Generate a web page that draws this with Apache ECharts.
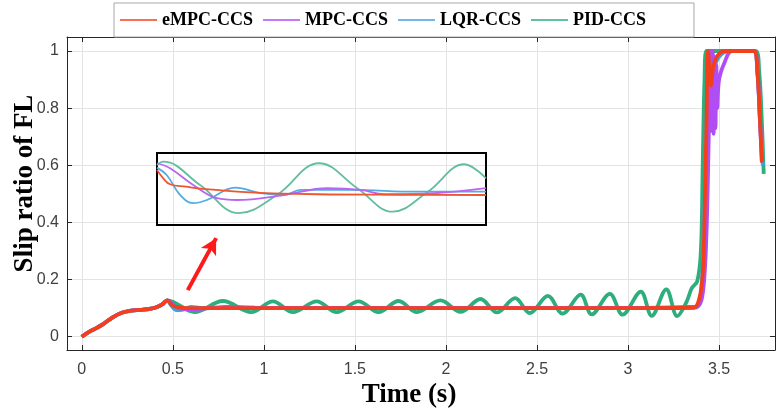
<!DOCTYPE html>
<html>
<head>
<meta charset="utf-8">
<script src="https://cdn.jsdelivr.net/npm/echarts@6/dist/echarts.min.js"></script>
<style>
html,body{margin:0;padding:0;background:#fff;}
#chart{width:783px;height:411px;}
</style>
</head>
<body>
<div id="chart"></div>
<script>
// ---- tick labels ----
const xTicks = [0, 0.5, 1, 1.5, 2, 2.5, 3, 3.5];
const yTicks = [0, 0.2, 0.4, 0.6, 0.8, 1];
const legendNames = ['eMPC-CCS', 'MPC-CCS', 'LQR-CCS', 'PID-CCS'];

// ---- common start-up rise (all controllers) ----
const riseT = [0, 0.04, 0.08, 0.12, 0.17, 0.22, 0.27, 0.32, 0.37, 0.41, 0.44, 0.47];
const riseV = [0, 0.017, 0.030, 0.045, 0.068, 0.084, 0.091, 0.094, 0.097, 0.103, 0.112, 0.127];

// ---- eMPC-CCS ----
const empcT = [0.50, 0.55, 0.60, 1.0, 2.0, 3.0, 3.36, 3.39, 3.41, 3.42, 3.43, 3.44, 3.455, 3.47, 3.50, 3.54, 3.69, 3.71, 3.725, 3.735];
const empcV = [0.108, 0.102, 0.100, 0.100, 0.100, 0.100, 0.101, 0.13, 0.22, 0.42, 0.72, 1.0, 0.88, 0.95, 0.99, 1.0, 1.0, 0.93, 0.75, 0.61];

// ---- MPC-CCS ----
const mpcT = [0.49, 0.52, 0.56, 0.62, 0.70, 0.80, 0.95, 1.2, 2.0, 3.0, 3.33, 3.38, 3.41, 3.43, 3.445, 3.455, 3.46, 3.465, 3.47, 3.475, 3.48, 3.485, 3.49, 3.50, 3.53, 3.57, 3.69, 3.71, 3.725, 3.735];
const mpcV = [0.118, 0.104, 0.097, 0.096, 0.100, 0.104, 0.102, 0.101, 0.101, 0.101, 0.104, 0.105, 0.15, 0.35, 0.75, 1.0, 0.72, 1.0, 0.71, 0.98, 0.73, 0.95, 0.80, 0.90, 0.96, 1.0, 1.0, 0.93, 0.75, 0.61];

// ---- LQR-CCS ----
const lqrT = [0.49, 0.52, 0.55, 0.60, 0.65, 0.72, 0.85, 1.0, 2.0, 3.0, 3.37, 3.40, 3.42, 3.435, 3.445, 3.46, 3.50, 3.55, 3.69, 3.71, 3.725, 3.74];
const lqrV = [0.110, 0.093, 0.094, 0.104, 0.101, 0.100, 0.103, 0.101, 0.101, 0.101, 0.102, 0.15, 0.45, 0.85, 1.0, 0.93, 0.98, 1.0, 1.0, 0.93, 0.75, 0.60];

// ---- PID-CCS ----
const pidT = [0.62, 0.775, 0.93, 1.05, 1.16, 1.29, 1.40, 1.52, 1.63, 1.74, 1.84, 1.97, 2.08, 2.19, 2.28, 2.38, 2.46, 2.56, 2.64, 2.74, 2.80, 2.90, 2.97, 3.07, 3.13, 3.21, 3.27, 3.32, 3.35, 3.38, 3.40, 3.41, 3.42, 3.43, 3.70, 3.72, 3.735, 3.745];
const pidV = [0.086, 0.125, 0.086, 0.124, 0.086, 0.124, 0.086, 0.124, 0.086, 0.125, 0.086, 0.127, 0.087, 0.132, 0.085, 0.135, 0.083, 0.143, 0.081, 0.147, 0.078, 0.150, 0.077, 0.158, 0.073, 0.166, 0.072, 0.12, 0.17, 0.194, 0.30, 0.60, 0.90, 1.0, 1.0, 0.93, 0.75, 0.57];

// ---- zoomed inset (t from ~0.44 s to ~1.12 s) ----
const inEmpcT = [0.44, 0.453, 0.467, 0.50, 0.529, 0.633, 0.771, 0.95, 1.12];
const inEmpcV = [0.1195, 0.113, 0.1084, 0.1065, 0.105, 0.1021, 0.1006, 0.1002, 0.1000];
const inMpcT = [0.44, 0.467, 0.515, 0.564, 0.605, 0.702, 0.792, 0.861, 0.91, 1.013, 1.12];
const inMpcV = [0.1248, 0.1209, 0.1078, 0.0975, 0.0961, 0.1000, 0.1053, 0.1040, 0.1006, 0.1014, 0.1053];
const inLqrT = [0.44, 0.46, 0.488, 0.515, 0.543, 0.602, 0.654, 0.702, 0.737, 0.84, 0.979, 1.12];
const inLqrV = [0.1214, 0.1156, 0.100, 0.0936, 0.0961, 0.1057, 0.1014, 0.100, 0.104, 0.104, 0.1026, 0.1026];
const inPidT = [0.44, 0.453, 0.529, 0.609, 0.688, 0.775, 0.854, 0.927, 1.0, 1.075, 1.12];
const inPidV = [0.1234, 0.126, 0.1078, 0.0858, 0.100, 0.1248, 0.1053, 0.0870, 0.1026, 0.1240, 0.113];

// arrow annotation (data coordinates)
const arrowFrom = [0.582, 0.163];
const arrowTo = [0.738, 0.345];

const zip = (t, v) => t.map((x, i) => [x, v[i]]);
const withRise = (t, v) => zip(riseT, riseV).concat(zip(t, v));

const C = { empc: '#F2401C', mpc: '#B04DF5', lqr: '#3FA3E3', pid: '#2DAE7C' };
const CL = { empc: '#EE5533', mpc: '#B866F2', lqr: '#52ACE0', pid: '#62BE9C' };

function mainSeries(name, data, color, extra) {
  return Object.assign({
    name: name, type: 'line', xAxisIndex: 0, yAxisIndex: 0,
    data: data, symbol: 'none', smooth: 0.35, clip: true,
    lineStyle: { color: color, width: 3.8 }, itemStyle: { color: color },
    emphasis: { disabled: true }, animation: false
  }, extra || {});
}
function insetSeries(name, data, color) {
  return {
    name: name, type: 'line', xAxisIndex: 2, yAxisIndex: 2,
    data: data, symbol: 'none', smooth: 0.4, clip: true,
    lineStyle: { color: color, width: 1.8 }, itemStyle: { color: color },
    emphasis: { disabled: true }, animation: false
  };
}

const axisTxt = { fontFamily: 'Liberation Sans', fontSize: 16, color: '#404040' };
const nameTxt = { fontFamily: 'Liberation Serif', fontWeight: 'bold', fontSize: 27, color: '#000' };

const option = {
  backgroundColor: '#fff',
  animation: false,
  legend: {
    data: legendNames,
    top: 3, left: 114,
    padding: [8, 48, 8, 6],
    icon: 'rect',
    itemWidth: 37, itemHeight: 1.6, itemGap: 10,
    borderColor: '#a8a8a8', borderWidth: 1,
    backgroundColor: '#fff',
    textStyle: { fontFamily: 'Liberation Serif', fontWeight: 'bold', fontSize: 18, color: '#000', lineHeight: 14 },
    selectedMode: false
  },
  grid: [
    { left: 67, right: 8, top: 37, bottom: 61, show: false, containLabel: false, outerBoundsMode: 'none' },
    { left: 157, top: 153, width: 329, height: 72, show: true, borderColor: '#000', borderWidth: 2, backgroundColor: 'transparent', z: 3, containLabel: false, outerBoundsMode: 'none' }
  ],
  xAxis: [
    { type: 'value', gridIndex: 0, position: 'bottom', min: -0.081, max: 3.807,
      name: 'Time (s)', nameLocation: 'middle', nameGap: 32, nameMoveOverlap: false,
      nameTextStyle: Object.assign({ padding: [0, 24, 0, 0] }, nameTxt),
      axisLine: { show: true, onZero: false, lineStyle: { color: '#262626', width: 1 } },
      axisTick: { show: true, inside: true, length: 5, customValues: xTicks, lineStyle: { color: '#262626' } },
      axisLabel: { show: true, margin: 12, customValues: xTicks, formatter: v => String(v), ...axisTxt },
      splitLine: { show: true, lineStyle: { color: '#e3e3e3', width: 1 } } },
    { type: 'value', gridIndex: 0, position: 'top', min: -0.081, max: 3.807,
      axisLine: { show: true, onZero: false, lineStyle: { color: '#262626', width: 1 } },
      axisTick: { show: true, inside: true, length: 5, customValues: xTicks, lineStyle: { color: '#262626' } },
      axisLabel: { show: false }, splitLine: { show: false } },
    { type: 'value', gridIndex: 1, min: 0.44, max: 1.12, show: false, splitLine: { show: false } }
  ],
  yAxis: [
    { type: 'value', gridIndex: 0, position: 'left', min: -0.0465, max: 1.049,
      name: 'Slip ratio of FL', nameLocation: 'middle', nameGap: 28, nameRotate: 90, nameMoveOverlap: false,
      nameTextStyle: Object.assign({ padding: [0, 0, 0, 20] }, nameTxt),
      axisLine: { show: true, onZero: false, lineStyle: { color: '#262626', width: 1 } },
      axisTick: { show: true, inside: true, length: 5, customValues: yTicks, lineStyle: { color: '#262626' } },
      axisLabel: { show: true, margin: 8, customValues: yTicks, formatter: v => String(v), ...axisTxt },
      splitLine: { show: true, lineStyle: { color: '#e3e3e3', width: 1 } } },
    { type: 'value', gridIndex: 0, position: 'right', min: -0.0465, max: 1.049,
      axisLine: { show: true, onZero: false, lineStyle: { color: '#262626', width: 1 } },
      axisTick: { show: true, inside: true, length: 5, customValues: yTicks, lineStyle: { color: '#262626' } },
      axisLabel: { show: false }, splitLine: { show: false } },
    { type: 'value', gridIndex: 1, min: 0.0766, max: 0.1328, show: false, splitLine: { show: false } }
  ],
  series: [
    mainSeries('eMPC-CCS', [], C.empc, { z: 0 }),
    mainSeries('PID-CCS', withRise(pidT, pidV), C.pid),
    mainSeries('LQR-CCS', withRise(lqrT, lqrV), C.lqr),
    mainSeries('MPC-CCS', withRise(mpcT, mpcV), C.mpc),
    mainSeries('eMPC-CCS', withRise(empcT, empcV), C.empc, {
      markLine: {
        silent: true, animation: false,
        symbol: ['none', 'arrow'], symbolSize: [13, 16],
        label: { show: false },
        lineStyle: { color: '#FF1A1A', width: 4, type: 'solid' },
        data: [[{ coord: arrowFrom }, { coord: arrowTo }]]
      }
    }),
    insetSeries('PID inset', zip(inPidT, inPidV), CL.pid),
    insetSeries('LQR inset', zip(inLqrT, inLqrV), CL.lqr),
    insetSeries('MPC inset', zip(inMpcT, inMpcV), CL.mpc),
    insetSeries('eMPC inset', zip(inEmpcT, inEmpcV), CL.empc)
  ]
};

const chart = echarts.init(document.getElementById('chart'), null, { renderer: 'canvas' });
chart.setOption(option);
</script>
</body>
</html>
